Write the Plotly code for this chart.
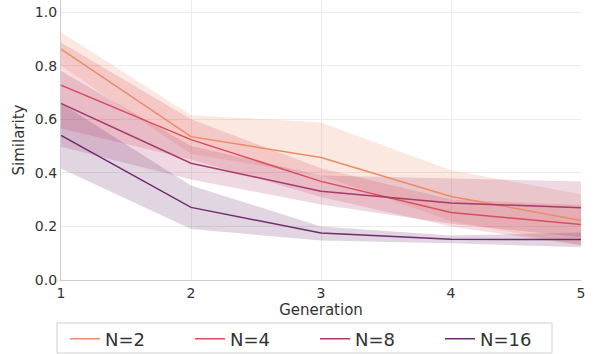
import plotly.graph_objects as go

generations = [1, 2, 3, 4, 5]
series_names = ["N=2", "N=4", "N=8", "N=16"]

n2_mean = [0.862, 0.535, 0.457, 0.312, 0.222]
n2_low = [0.80, 0.47, 0.39, 0.22, 0.13]
n2_high = [0.925, 0.615, 0.588, 0.41, 0.32]

n4_mean = [0.727, 0.524, 0.368, 0.252, 0.207]
n4_low = [0.565, 0.45, 0.31, 0.20, 0.13]
n4_high = [0.886, 0.60, 0.417, 0.30, 0.28]

n8_mean = [0.659, 0.436, 0.331, 0.287, 0.27]
n8_low = [0.497, 0.375, 0.282, 0.21, 0.16]
n8_high = [0.78, 0.50, 0.39, 0.378, 0.368]

n16_mean = [0.54, 0.271, 0.175, 0.152, 0.151]
n16_low = [0.416, 0.19, 0.147, 0.137, 0.122]
n16_high = [0.66, 0.353, 0.20, 0.166, 0.177]

colors = ["#ec8b67", "#dc4d5b", "#a83a6e", "#6e2c6f"]

data = [
    (n2_mean, n2_low, n2_high),
    (n4_mean, n4_low, n4_high),
    (n8_mean, n8_low, n8_high),
    (n16_mean, n16_low, n16_high),
]


def rgba(hex_color, a):
    h = hex_color.lstrip("#")
    r, g, b = int(h[0:2], 16), int(h[2:4], 16), int(h[4:6], 16)
    return f"rgba({r},{g},{b},{a})"


fig = go.Figure()
for name, color, (mean, low, high) in zip(series_names, colors, data):
    fig.add_trace(go.Scatter(x=generations, y=low, mode="lines", line=dict(width=0),
                             showlegend=False, hoverinfo="skip"))
    fig.add_trace(go.Scatter(x=generations, y=high, mode="lines", line=dict(width=0),
                             fill="tonexty", fillcolor=rgba(color, 0.2),
                             showlegend=False, hoverinfo="skip"))
for name, color, (mean, low, high) in zip(series_names, colors, data):
    fig.add_trace(go.Scatter(x=generations, y=mean, mode="lines", name=name,
                             line=dict(color=color, width=1.5)))

W, H = 594, 354
L, R, T, B = 61, 13, 0, 74
pw, ph = W - L - R, H - T - B

fig.update_layout(
    width=W, height=H,
    margin=dict(l=L, r=R, t=T, b=B, autoexpand=False),
    paper_bgcolor="white", plot_bgcolor="white",
    font=dict(family="DejaVu Sans", size=14, color="#333333"),
    showlegend=True,
    legend=dict(orientation="h", x=(65 - L) / pw, xanchor="left", y=(ph - 339) / ph,
                yanchor="middle", traceorder="normal",
                font=dict(size=18, color="#333333"),
                bgcolor="rgba(0,0,0,0)", borderwidth=0,
                entrywidth=80, entrywidthmode="pixels",
                itemwidth=30),
    shapes=[dict(type="rect", xref="paper", yref="paper",
                 x0=(57 - L) / pw, x1=(552 - L) / pw,
                 y0=(ph - 353) / ph, y1=(ph - 323) / ph,
                 line=dict(color="#d0d0d0", width=1), fillcolor="rgba(0,0,0,0)")],
    xaxis=dict(range=[1, 5], tickvals=generations, ticktext=["1", "2", "3", "4", "5"],
               showgrid=True, gridcolor="#ebebeb", gridwidth=1,
               showline=True, linecolor="#cccccc", linewidth=1.2,
               zeroline=False, ticks="", ticklen=0,
               title=dict(text="Generation", standoff=2, font=dict(size=15))),
    yaxis=dict(range=[0, 1.045], tickvals=[0, 0.2, 0.4, 0.6, 0.8, 1.0],
               ticktext=["0.0", "0.2", "0.4", "0.6", "0.8", "1.0"],
               showgrid=True, gridcolor="#ebebeb", gridwidth=1,
               showline=True, linecolor="#cccccc", linewidth=1.2,
               zeroline=False, ticks="",
               title=dict(text="Similarity", standoff=6, font=dict(size=15))),
)

fig.write_html("out.html", config={"displayModeBar": False},
               post_script="document.body.style.margin='0';")
